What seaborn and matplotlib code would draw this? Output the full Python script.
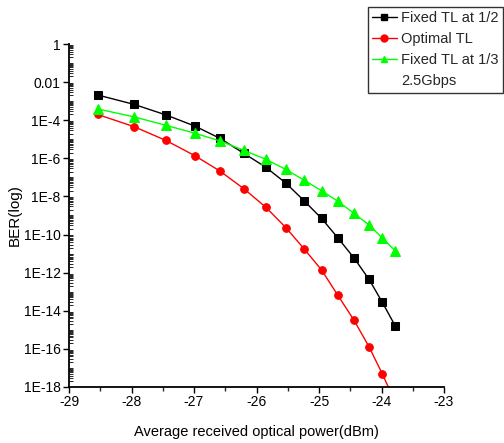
import numpy as np
import pandas as pd
import matplotlib
matplotlib.use("Agg")
import matplotlib.pyplot as plt
import matplotlib.ticker as mticker
from matplotlib.lines import Line2D
import seaborn as sns

# --- data ---
power_dbm = [-28.54, -27.96, -27.45, -26.99, -26.58, -26.20, -25.85, -25.53,
             -25.24, -24.96, -24.70, -24.44, -24.20, -23.99, -23.78]

ber_fixed_half = [2.1e-3, 6.8e-4, 1.9e-4, 5.0e-5, 1.1e-5, 1.8e-6, 3.4e-7, 5.0e-8,
                  6.0e-9, 7.1e-10, 6.8e-11, 5.9e-12, 4.5e-13, 2.9e-14, 1.6e-15]
ber_optimal = [2.0e-4, 4.6e-5, 8.7e-6, 1.4e-6, 2.1e-7, 2.5e-8, 2.7e-9, 2.3e-10,
               1.8e-11, 1.4e-12, 6.6e-14, 3.2e-15, 1.3e-16, 5.1e-18, 1.6e-19]
ber_fixed_third = [3.9e-4, 1.5e-4, 5.4e-5, 2.1e-5, 8.1e-6, 2.6e-6, 8.9e-7, 2.6e-7,
                   7.2e-8, 2.0e-8, 5.6e-9, 1.3e-9, 3.2e-10, 6.8e-11, 1.4e-11]

series_names = ["Fixed TL at 1/2", "Optimal TL", "Fixed TL at 1/3"]
series_colors = ["#000000", "#ff0000", "#00ff00"]
series_markers = ["s", "o", "^"]
y_tick_labels = ["1", "0.01", "1E-4", "1E-6", "1E-8", "1E-10",
                 "1E-12", "1E-14", "1E-16", "1E-18"]

df = pd.DataFrame({
    "power": power_dbm * 3,
    "ber": ber_fixed_half + ber_optimal + ber_fixed_third,
    "series": sum([[n] * len(power_dbm) for n in series_names], []),
})

sns.set_theme(style="ticks")
plt.rcParams["font.family"] = ["Liberation Sans", "DejaVu Sans"]
plt.rcParams["axes.unicode_minus"] = False

fig = plt.figure(figsize=(5.04, 4.43), dpi=100)
ax = fig.add_axes([69 / 504, 1 - 387 / 443, (444 - 69) / 504, (387 - 44) / 443])

for name, color, marker in zip(series_names, series_colors, series_markers):
    sub = df[df["series"] == name]
    ms = 6.5 if marker == "^" else 5.5
    sns.lineplot(data=sub, x="power", y="ber", ax=ax, color=color, marker=marker,
                 markersize=ms, markeredgecolor=color, linewidth=1, legend=False,
                 estimator=None, sort=False)

ax.set_yscale("log")
ax.set_xlim(-29, -23)
ax.set_ylim(1e-18, 1)

y_major = [10.0 ** e for e in range(0, -19, -2)]
y_minor = [k * 10.0 ** e for e in range(-18, 0) for k in range(1, 10)]
ax.yaxis.set_major_locator(mticker.FixedLocator(y_major))
ax.yaxis.set_major_formatter(mticker.FixedFormatter(y_tick_labels))
ax.yaxis.set_minor_locator(mticker.FixedLocator(y_minor))
ax.yaxis.set_minor_formatter(mticker.NullFormatter())
ax.xaxis.set_major_locator(mticker.MultipleLocator(1))
ax.xaxis.set_minor_locator(mticker.MultipleLocator(0.5))
ax.xaxis.set_major_formatter(mticker.FormatStrFormatter("%d"))

ax.tick_params(axis="both", which="major", direction="out", length=4, width=1,
               labelsize=10, colors="black", pad=2)
ax.tick_params(axis="y", which="minor", direction="in", length=3, width=0.7)
ax.tick_params(axis="x", which="minor", direction="out", length=3, width=1)
for side in ["top", "right"]:
    ax.spines[side].set_visible(False)
for side in ["left", "bottom"]:
    ax.spines[side].set_color("black")
    ax.spines[side].set_linewidth(1.3)

ax.set_xlabel("Average received optical power(dBm)", fontsize=10.5, color="black")
ax.set_ylabel("BER(log)", fontsize=11, color="black")
ax.xaxis.set_label_coords(0.5, -(432 - 387) / 343, transform=ax.transAxes)
ax.yaxis.set_label_coords(-(69 - 15) / 375, 0.5)
ax.xaxis.label.set_va("center")
ax.yaxis.label.set_va("center")

handles = [Line2D([], [], color=c, marker=m, markersize=5, linewidth=1)
           for c, m in zip(series_colors, series_markers)]
handles.append(Line2D([], [], linestyle="none"))
labels = series_names + ["2.5Gbps"]
leg = fig.legend(handles, labels, loc="upper right", bbox_to_anchor=(503 / 504, 1 - 7 / 443),
                 fontsize=10.5, frameon=True, fancybox=False, handlelength=1.7,
                 handletextpad=0.3, labelspacing=0.48, borderpad=0.3, borderaxespad=0)
leg.get_frame().set_edgecolor("black")
leg.get_frame().set_linewidth(1)

fig.savefig("out.png", dpi=100)
